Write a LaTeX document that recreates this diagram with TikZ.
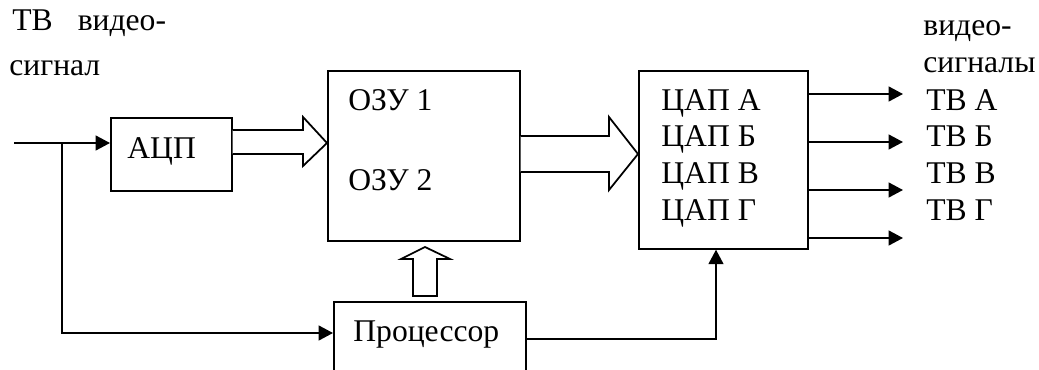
\documentclass[tikz,border=0pt]{standalone}
\usepackage{fontspec}
\setmainfont{Liberation Serif}
\usepackage{tikz}
\usetikzlibrary{
    arrows.meta,
    positioning
}

\begin{document}
\begin{tikzpicture}[
        x=0.02cm, y=-0.02cm,
        font=\fontsize{18pt}{22pt}\selectfont,
        block/.style={
            draw,
            line width=1pt,
            anchor=north west,
            inner sep=0pt
        },
        txt/.style={
            anchor=base west,
            inner sep=0pt
        },
        sig/.style={
            line width=1pt,
            -{Triangle[length=0.29cm, width=0.3cm]}
        },
        bus/.style={
            draw,
            line width=1pt,
            fill=white,
            line join=miter
        }
    ]
    \useasboundingbox (0,0) rectangle (1039,369);

    % blocks
    \node[block, minimum width=2.42cm, minimum height=1.46cm] (adc) at (110,117) {};
    \node[block, minimum width=3.84cm, minimum height=3.40cm] (ozu) at (327,70) {};
    \node[block, minimum width=3.38cm, minimum height=3.56cm] (dac) at (638,70) {};
    \node[block, minimum width=3.84cm, minimum height=2.00cm] (proc) at (333,301) {};

    % texts
    \node[txt] (tin1) at (12,30) {ТВ\hspace{0.5cm}видео-};
    \node[txt] (tin2) at (9,75) {сигнал};
    \node[txt] (tadc) at (127,158) {АЦП};
    \node[txt] (tozu1) at (348,110) {ОЗУ 1};
    \node[txt] (tozu2) at (348,190) {ОЗУ 2};
    \node[txt] (tproc) at (353,341) {Процессор};
    \node[txt] (tout1) at (923,35) {видео-};
    \node[txt] (tout2) at (923,72) {сигналы};
    \foreach \y/\c in {110/А, 146.7/Б, 183.3/В, 220/Г} {
        \node[txt] (tdac\c) at (661,\y) {ЦАП \c};
        \node[txt] (ttv\c) at (926,\y) {ТВ \c};
    }

    % input
    \coordinate (in) at (14,143);
    \coordinate (split) at (62,143);
    \draw[sig] (in) -- (adc.west |- in);
    \draw[sig] (split) |- (proc.west |- 0,333);

    % buses
    \draw[bus] (adc.east |- 0,130) -- (303,130) -- (303,117) -- (ozu.west |- 0,143)
        -- (303,166) -- (303,154) -- (adc.east |- 0,154);
    \draw[bus] (ozu.east |- 0,136) -- (609,136) -- (609,117) -- (dac.west |- 0,154)
        -- (609,190) -- (609,172) -- (ozu.east |- 0,172);
    \draw[bus] (413,296) -- (413,259) -- (401,259) -- (425,247) -- (450,259)
        -- (437,259) -- (437,296) -- cycle;

    % control to dac
    \draw[sig] (proc.east |- 0,339) -| (716,0 |- dac.south);

    % outputs
    \foreach \y [count=\i] in {94, 142, 190, 238} {
        \coordinate (out\i) at (903,\y);
        \draw[sig] (dac.east |- out\i) -- (out\i);
    }

\end{tikzpicture}
\end{document}
